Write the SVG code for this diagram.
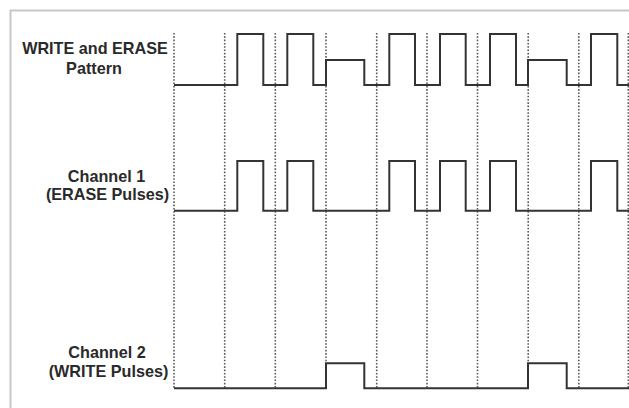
<svg xmlns="http://www.w3.org/2000/svg" width="629" height="408" viewBox="0 0 629 408">
<style>
.lbl{font-family:"Liberation Sans",Arial,sans-serif;font-weight:bold;font-size:16.2px;fill:#2a2a2a;text-anchor:middle}
.sig{fill:none;stroke:#333;stroke-width:2;stroke-linejoin:miter}
.grid line{stroke:#5a5a5a;stroke-width:1.6;stroke-dasharray:1.6 1.7}
</style>
<rect width="629" height="408" fill="#fff"/>
<path d="M10.5,420 V10.5 H640" fill="none" stroke="#c8c8c8" stroke-width="2"/>
<g id="connectors" class="grid">
<line x1="174" y1="33" x2="174" y2="388"/>
<line x1="224.7" y1="33" x2="224.7" y2="388"/>
<line x1="275.3" y1="33" x2="275.3" y2="388"/>
<line x1="326" y1="33" x2="326" y2="388"/>
<line x1="376.7" y1="33" x2="376.7" y2="388"/>
<line x1="427" y1="33" x2="427" y2="388"/>
<line x1="477.5" y1="33" x2="477.5" y2="388"/>
<line x1="528.2" y1="33" x2="528.2" y2="388"/>
<line x1="578.8" y1="33" x2="578.8" y2="388"/>
<line x1="628.3" y1="33" x2="628.3" y2="388"/>
</g>
<g id="pattern">
<text class="lbl" x="95" y="54">WRITE and ERASE</text>
<text class="lbl" x="94" y="74">Pattern</text>
<path class="sig" d="M174,85 H237.3 V34 H263.3 V85 H287.3 V34 H313.3 V85 H326 V60 H364.3 V85 H389.3 V34 H415 V85 H440 V34 H465.7 V85 H490 V34 H516 V85 H528 V60 H566.7 V85 H591 V34 H617.3 V85 H630"/>
</g>
<g id="channel1">
<text class="lbl" x="106.5" y="181.5">Channel 1</text>
<text class="lbl" x="107.5" y="200">(ERASE Pulses)</text>
<path class="sig" d="M174,210.7 H237.3 V161 H263.3 V210.7 H287.3 V161 H313.3 V210.7 H389.3 V161 H415 V210.7 H440 V161 H465.7 V210.7 H490 V161 H516 V210.7 H591 V161 H617.3 V210.7 H630"/>
</g>
<g id="channel2">
<text class="lbl" x="107" y="358.3">Channel 2</text>
<text class="lbl" x="108.5" y="377">(WRITE Pulses)</text>
<path class="sig" d="M174,388.3 H326 V363.3 H364.3 V388.3 H528 V363.3 H566.7 V388.3 H630"/>
</g>
</svg>
